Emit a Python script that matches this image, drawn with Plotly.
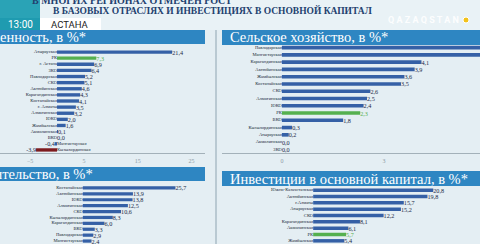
import plotly.graph_objects as go

W, H = 480, 244

# ---------------- data ----------------
ind_regions = ["Атырауская", "РК", "г. Астана", "ЗКО", "Павлодарская", "СКО", "Актюбинская",
               "Карагандинская", "Костанайская", "г. Алматы", "Алматинская", "ЮКО", "Жамбылская",
               "Акмолинская", "ВКО", "Мангистауская", "Кызылординская"]
ind_values = [21.4, 7.3, 6.9, 6.4, 5.2, 5.1, 4.6, 4.3, 4.1, 3.5, 3.2, 2.0, 1.6, 0.1, 0.0, -0.4, -3.9]

agr_regions = ["Павлодарская", "Мангистауская", "Карагандинская", "Актюбинская", "Жамбылская",
               "Костанайская", "СКО", "Алматинская", "ЮКО", "РК", "ВКО", "Кызылординская",
               "Атырауская", "Акмолинская", "ЗКО"]
agr_values = [6.6, 6.3, 4.1, 3.9, 3.6, 3.5, 2.6, 2.5, 2.4, 2.3, 1.8, 0.3, 0.2, 0.0, 0.0]

con_regions = ["Костанайская", "Актюбинская", "ЮКО", "Алматинская", "СКО", "Кызылординская",
               "Карагандинская", "ВКО", "Павлодарская", "Мангистауская"]
con_values = [25.7, 13.9, 13.8, 12.5, 10.6, 8.3, 6.0, 3.3, 2.9, 2.4]

inv_regions = ["Южно-Казахстанская", "Актюбинская", "г.Алматы", "Атырауская", "СКО",
               "Карагандинская", "Акмолинская", "РК", "Жамбылская"]
inv_values = [20.8, 19.8, 15.7, 15.2, 12.2, 8.1, 6.1, 5.7, 5.4]

ind_ticks = [-5, 5, 15, 25]
agr_ticks = [0, 3]

titles = ["Промышленность, в %*", "Сельское хозяйство, в %*",
          "Строительство, в %*", "Инвестиции в основной капитал, в %*"]
headline1 = "В МНОГИХ РЕГИОНАХ ОТМЕЧЕН РОСТ"
headline2 = "В БАЗОВЫХ ОТРАСЛЯХ И ИНВЕСТИЦИЯХ В ОСНОВНОЙ КАПИТАЛ"

# ---------------- style ----------------
BLUE = "#3560a6"
GREEN = "#55b04f"
RED = "#7e1b1e"
HEAD = "#2e86c2"
TXT = "#1b2a48"
SERIF = "Liberation Serif"


def px(x):
    return x / W


def py(y):
    return 1 - y / H


def colors(regions, values):
    out = []
    for r, v in zip(regions, values):
        if r == "РК":
            out.append(GREEN)
        elif v < -1:
            out.append(RED)
        else:
            out.append(BLUE)
    return out


fig = go.Figure()

panels = [
    # regions, values, x-domain px, y-domain px (top, bottom), xrange, ticks, barwidth
    (ind_regions, ind_values, (0, 205), (49, 153), (-10.6, 27.5), ind_ticks, 0.55),
    (agr_regions, agr_values, (222, 480), (44, 153), (-1.76, 5.82), agr_ticks, 0.5),
    (con_regions, con_values, (0, 205), (185, 244), (-23.0, 33.9), None, 0.55),
    (inv_regions, inv_values, (222, 480), (187, 244), (-15.8, 28.9), None, 0.55),
]

layout_axes = {}
for i, (regs, vals, xd, yd, xr, ticks, bw) in enumerate(panels, start=1):
    xa = "x" if i == 1 else f"x{i}"
    ya = "y" if i == 1 else f"y{i}"
    cols = colors(regs, vals)
    tcols = [GREEN if r == "РК" else TXT for r in regs]
    labels = [("%.1f" % v).replace(".", ",") if v < xr[1] * 0.93 else "" for v in vals]
    fig.add_trace(go.Bar(
        x=vals, y=regs, orientation="h", marker=dict(color=cols, line=dict(width=0)),
        width=bw, text=labels, textposition="outside", constraintext="none",
        textfont=dict(family=SERIF, size=6.2, color=tcols), xaxis=xa, yaxis=ya,
        showlegend=False, hoverinfo="skip"))
    fig.add_trace(go.Scatter(
        x=[0] * len(regs), y=regs, mode="text", text=regs,
        textposition=["middle right" if v < 0 else "middle left" for v in vals],
        textfont=dict(family=SERIF, size=4.6, color="#202a3a"),
        xaxis=xa, yaxis=ya, showlegend=False, hoverinfo="skip"))
    n = len(regs)
    xkey = "xaxis" if i == 1 else f"xaxis{i}"
    ykey = "yaxis" if i == 1 else f"yaxis{i}"
    xaxis = dict(domain=[px(xd[0]), px(xd[1])], range=list(xr), anchor=ya,
                 showgrid=False, zeroline=False, fixedrange=True)
    if ticks is not None:
        xaxis.update(showline=True, linecolor="#a3b1b9", linewidth=1,
                     tickvals=ticks, ticks="", tickfont=dict(family=SERIF, size=6, color="#8d9ba5"),
                     ticklabelstandoff=2)
    else:
        xaxis.update(visible=False)
    layout_axes[xkey] = xaxis
    layout_axes[ykey] = dict(domain=[py(yd[1]), py(yd[0])], anchor=xa, type="category",
                             categoryarray=regs, range=[n - 0.5, -0.5], visible=False,
                             fixedrange=True)

fig.update_layout(**layout_axes)

shapes = []
anns = []

# top headline area and separator
shapes.append(dict(type="rect", xref="paper", yref="paper", x0=0, x1=1, y0=py(30), y1=1,
                   fillcolor="#e9f2f6", line=dict(width=0), layer="below"))
shapes.append(dict(type="rect", xref="paper", yref="paper", x0=0, x1=px(40), y0=py(18), y1=1,
                   fillcolor="#2aa3b6", line=dict(width=0), layer="below"))
shapes.append(dict(type="line", xref="paper", yref="paper", x0=px(216), x1=px(216), y0=0, y1=py(30),
                   line=dict(color="#b9c9d2", width=2), layer="below"))

# header bars
head_boxes = [(0, 205, 30, 44), (222, 480, 30, 45), (0, 205, 167, 181), (222, 480, 171, 186)]
title_pos = [(88, "right"), (228, "left"), (95, "right"), (228, "left")]
for (x0, x1, y0, y1), t, (tx, anc) in zip(head_boxes, titles, title_pos):
    shapes.append(dict(type="rect", xref="paper", yref="paper", x0=px(x0), x1=px(x1),
                       y0=py(y1), y1=py(y0), fillcolor=HEAD, line=dict(width=0), layer="below"))
    anns.append(dict(text=t, xref="paper", yref="paper", x=px(tx), y=py((y0 + y1) / 2),
                     xanchor=anc, yanchor="middle", showarrow=False,
                     font=dict(family=SERIF, size=14.5, color="white")))

# headlines
anns.append(dict(text="<b>" + headline1 + "</b>", xref="paper", yref="paper", x=px(30), y=py(0),
                 xanchor="left", yanchor="middle", showarrow=False,
                 font=dict(family=SERIF, size=10, color="#22406e")))
anns.append(dict(text="<b>" + headline2 + "</b>", xref="paper", yref="paper", x=px(212), y=py(11),
                 xanchor="center", yanchor="middle", showarrow=False,
                 font=dict(family=SERIF, size=9.5, color="#22406e")))

# time / city badge
shapes.append(dict(type="rect", xref="paper", yref="paper", x0=0, x1=px(40), y0=py(30), y1=py(18),
                   fillcolor="#1f9bb0", line=dict(width=0)))
shapes.append(dict(type="rect", xref="paper", yref="paper", x0=px(40), x1=px(101), y0=py(30), y1=py(18),
                   fillcolor="white", line=dict(width=0)))
anns.append(dict(text="13:00", xref="paper", yref="paper", x=px(20), y=py(24), showarrow=False,
                 xanchor="center", yanchor="middle", font=dict(family="Roboto", size=10, color="white")))
anns.append(dict(text="АСТАНА", xref="paper", yref="paper", x=px(70), y=py(24), showarrow=False,
                 xanchor="center", yanchor="middle", font=dict(family="Roboto", size=9.5, color="#222")))

# channel logo
anns.append(dict(text="<b>Q A Z A Q S T A N</b>", xref="paper", yref="paper", x=px(461), y=py(20),
                 showarrow=False, xanchor="right", yanchor="middle",
                 font=dict(family="Roboto", size=9, color="rgba(255,255,255,0.92)")))
shapes.append(dict(type="circle", xref="paper", yref="paper", x0=px(463), x1=px(469), y0=py(23), y1=py(17),
                   fillcolor="#f2c21b", line=dict(color="white", width=1)))

fig.update_layout(
    width=W, height=H, margin=dict(l=0, r=0, t=0, b=0),
    paper_bgcolor="#e4eef3", plot_bgcolor="rgba(0,0,0,0)",
    separators=",.", bargap=0.3, shapes=shapes, annotations=anns,
)

fig.write_html("out.html")
